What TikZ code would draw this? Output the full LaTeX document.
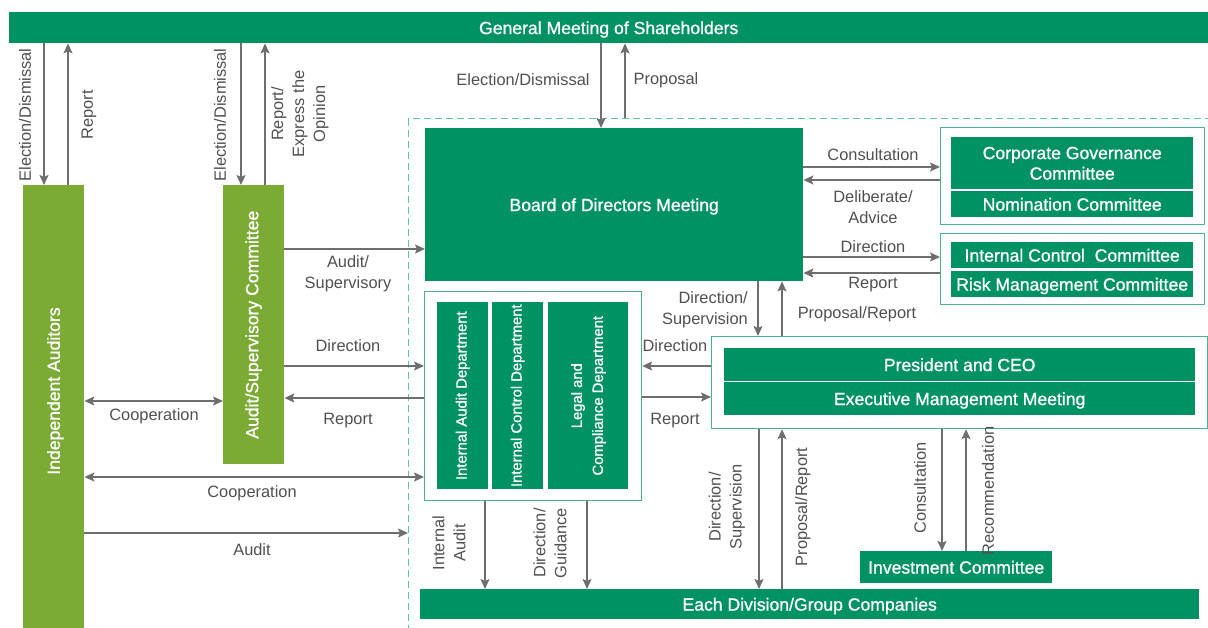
\documentclass[tikz,border=0pt]{standalone}
\usepackage{fontspec}
\setmainfont{Liberation Sans}
\newfontfamily\boxfont[FakeBold=1]{Liberation Sans}
\usepackage{graphicx}
\usetikzlibrary{arrows.meta}
\definecolor{dkgreen}{HTML}{009263}
\definecolor{ltgreen}{HTML}{7BAA35}
\definecolor{grpline}{HTML}{45B58A}
\definecolor{dashcol}{HTML}{5EC4A2}
\definecolor{arrgray}{HTML}{6E6E6E}
\definecolor{lblgray}{HTML}{505050}
\begin{document}
\begin{tikzpicture}[x=1pt,y=-1pt,>={Stealth[length=10pt,width=9pt,inset=2pt]},
	dkbox/.style={fill=dkgreen,text=white,inner sep=0pt,anchor=north west,align=center,text depth=0pt,font=\boxfont\fontsize{17.6}{20.5}\selectfont},
	ltbox/.style={dkbox,fill=ltgreen},
	deptbox/.style={dkbox,font=\boxfont\fontsize{14.8}{21}\selectfont},
	grpbox/.style={draw=grpline,line width=1.2pt,fill=white,inner sep=0pt,anchor=north west},
	dashbox/.style={draw=dashcol,line width=1.3pt,dash pattern=on 7pt off 4pt,inner sep=0pt,anchor=north west},
	arr/.style={->,draw=arrgray,line width=1.4pt},
	lbl/.style={text=lblgray,inner sep=0pt,align=center,font=\fontsize{16.4}{21}\selectfont}]
	\useasboundingbox (0,0) rectangle (1208,628);
	\node[dkbox,minimum width=1199pt,minimum height=31pt] (gms) at (9,12) {General Meeting of Shareholders};
	\node[dashbox,minimum width=830pt,minimum height=540pt] (frame) at (408,118) {};
	\node[ltbox,minimum width=61pt,minimum height=455pt] (ia) at (23,185) {};
	\node[ltbox,fill=none,rotate=90,anchor=center] (iatext) at (53.5,391) {Independent Auditors};
	\node[ltbox,minimum width=61pt,minimum height=279pt] (asc) at (223,185) {\rotatebox{90}{Audit/Supervisory Committee}};
	\node[dkbox,minimum width=378pt,minimum height=153pt] (bod) at (425,128) {Board of Directors Meeting};
	\node[grpbox,minimum width=264pt,minimum height=97pt] (gov) at (940,127) {};
	\node[dkbox,minimum width=242pt,minimum height=52pt] (cgc) at (951,137) {Corporate Governance\\Committee};
	\node[dkbox,minimum width=242pt,minimum height=26pt] (nom) at (951,191) {Nomination Committee};
	\node[grpbox,minimum width=264pt,minimum height=71pt] (ctl) at (940,233) {};
	\node[dkbox,minimum width=242pt,minimum height=26pt] (icc) at (951,242) {Internal Control\ \ Committee};
	\node[dkbox,minimum width=242pt,minimum height=26pt] (rmc) at (951,271) {Risk Management Committee};
	\node[grpbox,minimum width=496pt,minimum height=92pt] (exec) at (711,336) {};
	\node[dkbox,minimum width=471pt,minimum height=33pt] (ceo) at (724,348) {President and CEO};
	\node[dkbox,minimum width=471pt,minimum height=33pt] (emm) at (724,382) {Executive Management Meeting};
	\node[grpbox,minimum width=217pt,minimum height=209pt] (dept) at (424,291) {};
	\node[deptbox,minimum width=51pt,minimum height=187pt] (iad) at (437,302) {\rotatebox{90}{Internal Audit Department}};
	\node[deptbox,minimum width=51pt,minimum height=187pt] (icd) at (492,302) {\rotatebox{90}{Internal Control Department}};
	\node[deptbox,minimum width=80pt,minimum height=187pt] (lcd) at (548,302) {\rotatebox{90}{\begin{tabular}{@{}c@{}}Legal and\\Compliance Department\end{tabular}}};
	\node[dkbox,minimum width=779pt,minimum height=30pt] (div) at (420,589) {Each Division/Group Companies};
	\node[dkbox,minimum width=192pt,minimum height=32pt] (inv) at (860,551) {Investment Committee};

	\draw[arr] (gms.south -| 44,0) -- (ia.north -| 44,0);
	\draw[arr] (ia.north -| 68,0) -- (gms.south -| 68,0);
	\draw[arr] (gms.south -| 241,0) -- (asc.north -| 241,0);
	\draw[arr] (asc.north -| 265,0) -- (gms.south -| 265,0);
	\draw[arr] (gms.south -| 601,0) -- (bod.north -| 601,0);
	\draw[arr] (frame.north -| 625,0) -- (gms.south -| 625,0);
	\draw[arr] (asc.east |- 0,249) -- (bod.west |- 0,249);
	\draw[arr] (asc.east |- 0,366) -- (dept.west |- 0,366);
	\draw[arr] (dept.west |- 0,398) -- (asc.east |- 0,398);
	\draw[arr,<->] (ia.east |- 0,401) -- (asc.west |- 0,401);
	\draw[arr,<->] (ia.east |- 0,477) -- (dept.west |- 0,477);
	\draw[arr] (ia.east |- 0,533) -- (frame.west |- 0,533);
	\draw[arr] (bod.east |- 0,167) -- (gov.west |- 0,167);
	\draw[arr] (gov.west |- 0,180) -- (bod.east |- 0,180);
	\draw[arr] (bod.east |- 0,257) -- (ctl.west |- 0,257);
	\draw[arr] (ctl.west |- 0,273) -- (bod.east |- 0,273);
	\draw[arr] (bod.south -| 758,0) -- (exec.north -| 758,0);
	\draw[arr] (exec.north -| 782,0) -- (bod.south -| 782,0);
	\draw[arr] (exec.west |- 0,366) -- (dept.east |- 0,366);
	\draw[arr] (dept.east |- 0,397) -- (exec.west |- 0,397);
	\draw[arr] (dept.south -| 485,0) -- (div.north -| 485,0);
	\draw[arr] (dept.south -| 587,0) -- (div.north -| 587,0);
	\draw[arr] (exec.south -| 759,0) -- (div.north -| 759,0);
	\draw[arr] (div.north -| 782,0) -- (exec.south -| 782,0);
	\draw[arr] (exec.south -| 942,0) -- (inv.north -| 942,0);
	\draw[arr] (inv.north -| 966,0) -- (exec.south -| 966,0);

	\node[lbl,rotate=90] (lia1) at (25,115) {Election/Dismissal};
	\node[lbl,rotate=90] (lia2) at (89,115) {Report};
	\node[lbl,rotate=90] (lasc1) at (220,115) {Election/Dismissal};
	\node[lbl,rotate=90] (lasc2) at (300,114) {Report/\\Express the\\Opinion};
	\node[lbl] (lbod1) at (523,80) {Election/Dismissal};
	\node[lbl] (lbod2) at (666,80) {Proposal};
	\node[lbl] (lgov1) at (873,155) {Consultation};
	\node[lbl] (lgov2) at (873,207) {Deliberate/\\Advice};
	\node[lbl] (lctl1) at (873,247) {Direction};
	\node[lbl] (lctl2) at (873,285) {Report};
	\node[lbl,align=right,anchor=east] (lexec1) at (748,309.5) {Direction/\\Supervision};
	\node[lbl] (lexec2) at (857,314) {Proposal/Report};
	\node[lbl] (ldept1) at (675,346) {Direction};
	\node[lbl] (ldept2) at (675,421) {Report};
	\node[lbl] (lasc3) at (348,274) {Audit/\\Supervisory};
	\node[lbl] (lasc4) at (348,346) {Direction};
	\node[lbl] (lasc5) at (348,421) {Report};
	\node[lbl] (lcoop1) at (154,416) {Cooperation};
	\node[lbl] (lcoop2) at (252,493) {Cooperation};
	\node[lbl] (laudit) at (252,550) {Audit};
	\node[lbl,rotate=90] (ldiv1) at (449,543) {Internal\\Audit};
	\node[lbl,rotate=90] (ldiv2) at (550,543) {Direction/\\Guidance};
	\node[lbl,rotate=90] (ldiv3) at (727,507) {Direction/\\Supervision};
	\node[lbl,rotate=90] (ldiv4) at (803,507) {Proposal/Report};
	\node[lbl,rotate=90] (linv1) at (920,488) {Consultation};
	\node[lbl,rotate=90] (linv2) at (988,491) {Recommendation};
\end{tikzpicture}
\end{document}
